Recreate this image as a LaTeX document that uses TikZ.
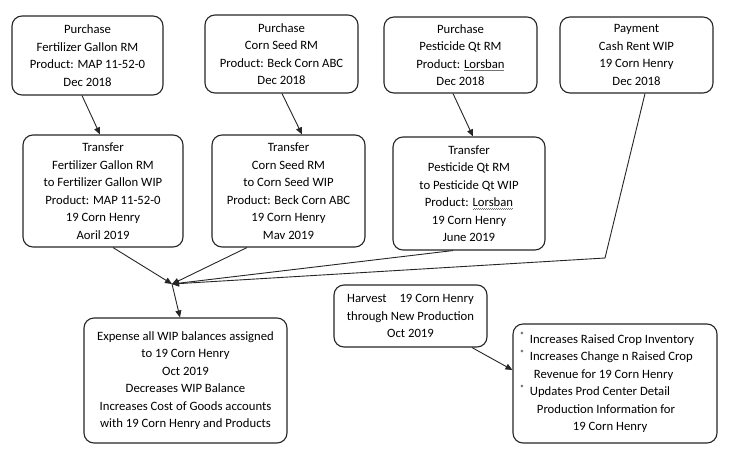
\documentclass[tikz,border=0pt]{standalone}
\usepackage{fontspec}
\setmainfont{Carlito}
\usetikzlibrary{arrows.meta,calc}
\tikzset{
  box/.style={draw=black!85, line width=1.1pt, rounded corners=10pt, align=center, inner sep=0pt,
    font=\fontsize{12.7pt}{17.5pt}\selectfont},
  arr/.style={draw=black!85, line width=0.9pt, -{Triangle[length=7pt,width=6pt]}},
}
\newcommand{\wav}[1]{\setbox0\hbox{#1}\rlap{\raisebox{-2.6pt}[0pt][0pt]{\color{black!55}\hbox to\wd0{\leaders\hbox to 2pt{\rule{1pt}{0.5pt}\raisebox{0.7pt}{\rule{1pt}{0.5pt}}}\hfil}}}\box0}
\newcommand{\bul}{\textsuperscript{*}\hspace{5pt}}
\begin{document}
\begin{tikzpicture}[x=1pt,y=-1pt]
\useasboundingbox (0,0) rectangle (735,455);
\fill[white] (0,0) rectangle (735,455);
\node[box, minimum width=151pt, minimum height=79pt] (b1) at (87.5,55.5) {Purchase\\Fertilizer Gallon RM\\Product: MAP 11-52-0\\Dec 2018};
\node[box, minimum width=153pt, minimum height=78pt] (b2) at (281.5,54) {Purchase\\Corn Seed RM\\Product: Beck Corn ABC\\Dec 2018};
\node[box, minimum width=153pt, minimum height=76pt] (b3) at (460.5,55) {Purchase\\Pesticide Qt RM\\Product: \wav{Lorsban}\\Dec 2018};
\node[box, minimum width=153pt, minimum height=76pt] (b4) at (636.5,55) {Payment\\Cash Rent WIP\\19 Corn Henry\\Dec 2018};
\node[box, minimum width=160pt, minimum height=112pt] (b5) at (103,191) {Transfer\\Fertilizer Gallon RM\\to Fertilizer Gallon WIP\\Product: MAP 11-52-0\\19 Corn Henry\\Aoril 2019};
\node[box, minimum width=153pt, minimum height=112pt] (b6) at (288.5,191) {Transfer\\Corn Seed RM\\to Corn Seed WIP\\Product: Beck Corn ABC\\19 Corn Henry\\Mav 2019};
\node[box, minimum width=152pt, minimum height=113pt] (b7) at (469,193.5) {Transfer\\Pesticide Qt RM\\to Pesticide Qt WIP\\Product: \wav{Lorsban}\\19 Corn Henry\\June 2019};
\node[box, minimum width=203pt, minimum height=125pt] (b8) at (185.5,380.5) {Expense all WIP balances assigned\\to 19 Corn Henry\\Oct 2019\\Decreases WIP Balance\\Increases Cost of Goods accounts\\with 19 Corn Henry and Products};
\node[box, minimum width=153pt, minimum height=62pt] (b9) at (410.5,316) {Harvest\hspace{10pt} 19 Corn Henry\\through New Production\\Oct 2019};
\node[box, minimum width=204pt, minimum height=119pt] (b10) at (615,383.5) {%
\begin{tabular}{@{}l@{}}
\bul Increases Raised Crop Inventory\\
\bul Increases Change n Raised Crop\\
\hspace{14pt}Revenue for 19 Corn Henry\\
\bul Updates Prod Center Detail\\
\hspace{17pt}Production Information for\\
\hspace{53pt}19 Corn Henry
\end{tabular}\hspace{16pt}};
\coordinate (J) at (172,284);
\coordinate (K) at (605,258);
\draw[arr] ([xshift=-5.5pt]b1.south) -- ([xshift=-3pt]b5.north);
\draw[arr] ([xshift=0.5pt]b2.south) -- ([xshift=13.5pt]b6.north);
\draw[arr] ([xshift=-7.5pt]b3.south) -- ([xshift=4pt]b7.north);
\draw[arr] ([xshift=10pt]b5.south) -- (J);
\draw[arr] ([xshift=-41.5pt]b6.south) -- (J);
\draw[arr] ([xshift=-16pt]b7.south) -- (J);
\draw[arr] ([xshift=8.5pt]b4.south) -- (K) -- (J);
\draw[arr] (J) -- ([xshift=-5.5pt]b8.north);
\draw[arr] ([xshift=61.5pt]b9.south) -- ([yshift=13.5pt]b10.west);
\end{tikzpicture}
\end{document}
